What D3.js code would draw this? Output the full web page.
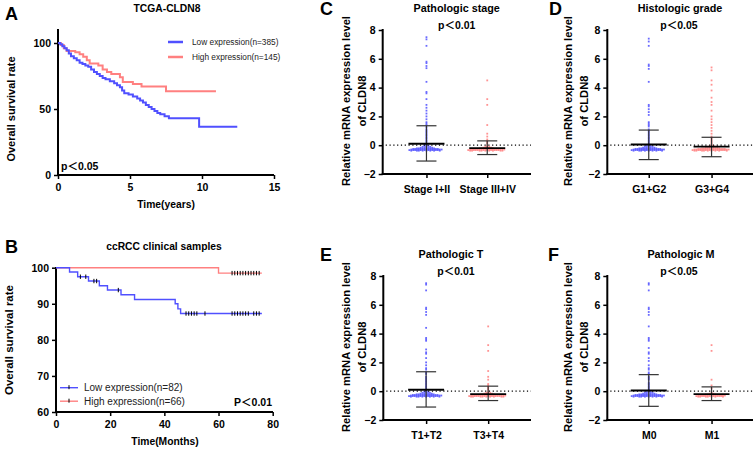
<!DOCTYPE html>
<html><head><meta charset="utf-8">
<script src="https://cdn.jsdelivr.net/npm/d3@7"></script>
<style>
body{margin:0;background:#fff}
text{font-family:"Liberation Sans",Arial,"Noto Sans CJK SC",sans-serif}
</style>
</head><body>
<svg id="c" width="753" height="449" xmlns="http://www.w3.org/2000/svg"></svg>
<script>
// ---------------- DATA ----------------
// Panel A: TCGA KM curves (time in years, survival %)
const A_lowT  = [0,0.15,0.3,0.45,0.6,0.75,0.9,1.1,1.3,1.5,1.7,1.9,2.1,2.3,2.5,2.7,2.9,3.1,3.3,3.6,3.9,4.1,4.3,4.45,4.6,4.9,5.2,5.5,5.7,5.9,6.1,6.3,6.5,6.7,6.9,7.1,7.4,7.7,9.8,12.45];
const A_lowS  = [100,99,97.5,96,94.5,92,90,88.5,87,85,84,83,82,80,78,76.5,75,73.5,72.5,71,69.5,68,66.5,64,62,61,59.5,58,56.5,55,53,51.5,50,48.5,47,46,44.5,43,36.5,36.5];
const A_highT = [0,0.2,0.4,0.6,1.2,1.5,1.75,2.0,2.2,2.8,3.1,3.4,3.7,4.3,4.5,5.2,5.8,7.5,10.97];
const A_highS = [100,98.5,96,94,93,91.5,89.5,87,84.5,83,80,78,76.5,74,70.5,69,67,63.5,63.5];
const A_xTicks = [0,5,10,15];
const A_yTicks = [0,50,100];
const A_legend = ["Low expression(n=385)","High expression(n=145)"];

// Panel B: clinical samples KM (months, %)
const B_lowT  = [0,5,8,12,16,19,24,29,44,45,46,76];
const B_lowS  = [100,98.8,97.5,96.3,95.0,93.8,92.5,91.2,90.0,88.6,87.3,87.3];
const B_highT = [0,60,76];
const B_highS = [100,98.5,98.5];
const B_lowCensor  = [9,11,14,15,23,48,49,50,51,52,55,65,66,67,68,69,70,71,73,74,75];
const B_highCensor = [65,66,67,68,69,70,71,72,73,74,75];
const B_xTicks = [0,20,40,60,80];
const B_yTicks = [60,70,80,90,100];
const B_legend = ["Low expression(n=82)","High expression(n=66)"];

// Scatter panels: relative mRNA expression of CLDN8
const dotYTicks = [-2,0,2,4,6,8];
const bandLevels = [-0.38,-0.34,-0.30,-0.26,-0.22,-0.17,-0.11,-0.05];

const C_cats = ["Stage I+II","Stage III+IV"];
const C_lowOut  = [7.5,7.35,6.9,5.8,5.7,5.5,5.35,4.4,3.7,3.6,3.2,2.8,2.6,2.4,2.2,2.0,1.8,1.6,1.5,1.4,1.25,1.1,1.0,0.9,0.8,0.7,0.6,0.5,0.4,0.3,0.2,0.1,0.05,0];
const C_highOut = [4.5,3.2,2.8,1.4,0.8,0.6,0.4,0.3,0.2,0.1];
const C_lowBand  = [8,9,9,8,6,4,3,2];
const C_highBand = [9,10,10,9,5,3,2,1];
const C_mean = [0.1,-0.2], C_sdHi = [1.35,0.3], C_sdLo = [-1.1,-0.65];

const D_cats = ["G1+G2","G3+G4"];
const D_lowOut  = [7.4,7.2,6.9,5.6,5.5,5.3,4.4,2.8,2.7,2.5,2.3,2.1,1.6,1.5,1.4,1.3,1.1,1.0,0.9,0.8,0.7,0.6,0.5,0.4,0.3,0.2,0.1,0];
const D_highOut = [5.4,5.2,4.5,4.2,3.8,3.3,3.0,2.8,2.4,2.0,1.8,1.6,1.4,1.2,1.0,0.8,0.6,0.5,0.4,0.3,0.2,0.1,0];
const D_lowBand  = [8,9,9,8,6,4,3,2];
const D_highBand = [9,10,10,9,6,4,3,2];
const D_mean = [0.05,-0.1], D_sdHi = [1.05,0.55], D_sdLo = [-1.0,-0.8];

const E_cats = ["T1+T2","T3+T4"];
const E_lowOut  = [7.5,7.4,7.0,5.8,5.7,5.5,5.3,4.4,3.7,3.6,3.5,2.9,2.7,2.6,2.3,2.0,1.8,1.6,1.5,1.3,1.2,1.0,0.9,0.8,0.7,0.6,0.5,0.4,0.3,0.2,0.1,0];
const E_highOut = [4.5,3.2,2.8,1.4,1.0,0.8,0.5,0.4,0.3,0.2,0.1];
const E_lowBand  = [8,9,9,8,6,4,3,2];
const E_highBand = [9,10,10,9,5,3,2,1];
const E_mean = [0.1,-0.2], E_sdHi = [1.35,0.35], E_sdLo = [-1.1,-0.65];

const F_cats = ["M0","M1"];
const F_lowOut  = [7.5,7.4,7.0,5.8,5.7,5.5,5.3,4.5,3.7,3.6,3.5,3.0,2.7,2.6,2.3,2.1,1.8,1.6,1.5,1.3,1.2,1.0,0.9,0.8,0.6,0.5,0.4,0.3,0.2,0.1,0];
const F_highOut = [3.2,2.8,0.8,0.4,0.2];
const F_lowBand  = [8,9,9,8,6,4,3,2];
const F_highBand = [7,8,8,7,4,2,1,0];
const F_mean = [0.05,-0.2], F_sdHi = [1.15,0.3], F_sdLo = [-1.05,-0.65];

// ---------------- DRAW ----------------
const BLUE = "#5050ff", RED = "#ff8080";
const svg = d3.select("#c");
svg.append("rect").attr("width",753).attr("height",449).attr("fill","#fff");

function styleAxis(g, fs){
  g.select(".domain").remove();
  g.selectAll(".tick line").attr("stroke","#000").attr("stroke-width",1.5);
  g.selectAll(".tick text").attr("fill","#000").attr("font-size",fs||10.5).attr("font-weight","bold");
}
function txt(x,y,s,opt){
  opt = opt||{};
  const t = svg.append("text").attr("x",x).attr("y",y).text(s)
    .attr("font-size",opt.size||10).attr("font-weight",opt.weight||"bold")
    .attr("fill",opt.fill||"#000").attr("text-anchor",opt.anchor||"start");
  if(opt.rotate) t.attr("transform",`rotate(-90,${x},${y})`);
  return t;
}
function vline(x,y1,y2,w){ svg.append("line").attr("x1",x).attr("x2",x).attr("y1",y1).attr("y2",y2).attr("stroke","#000").attr("stroke-width",w||2); }
function hline(y,x1,x2,w){ svg.append("line").attr("x1",x1).attr("x2",x2).attr("y1",y).attr("y2",y).attr("stroke","#000").attr("stroke-width",w||2); }

// ===== Panel A =====
{
  const x = d3.scaleLinear([0,15],[58,274]);
  const y = d3.scaleLinear([0,100],[175,43]);
  const gy = svg.append("g").attr("transform","translate(58,0)").call(d3.axisLeft(y).tickValues(A_yTicks).tickSize(4).tickPadding(3));
  styleAxis(gy);
  const gx = svg.append("g").attr("transform","translate(0,175)").call(d3.axisBottom(x).tickValues(A_xTicks).tickSize(4).tickPadding(5));
  styleAxis(gx);
  vline(58,29,176); hline(175,57,274);
  const line = d3.line().curve(d3.curveStepAfter).x(d=>x(d[0])).y(d=>y(d[1]));
  svg.append("path").attr("d",line(d3.zip(A_highT,A_highS))).attr("fill","none").attr("stroke",RED).attr("stroke-width",2);
  svg.append("path").attr("d",line(d3.zip(A_lowT,A_lowS))).attr("fill","none").attr("stroke",BLUE).attr("stroke-width",2);
  [BLUE,RED].forEach((c,i)=>{
    const ly = 42 + i*15;
    svg.append("line").attr("x1",168).attr("x2",183).attr("y1",ly).attr("y2",ly).attr("stroke",c).attr("stroke-width",2.5);
    txt(192, ly+3, A_legend[i], {size:8.3, weight:"normal", fill:"#222"});
  });
  txt(61,170,"p＜0.05",{size:10.5});
  txt(167,12,"TCGA-CLDN8",{size:10.3,anchor:"middle"});
  txt(166,208,"Time(years)",{size:10.3,anchor:"middle"});
  txt(15,109,"Overall survival rate",{size:11,anchor:"middle",rotate:true});
  txt(5,20,"A",{size:18});
}

// ===== Panel B =====
{
  const x = d3.scaleLinear([0,80],[56,272.7]);
  const y = d3.scaleLinear([60,100],[412,267.7]);
  const gy = svg.append("g").attr("transform","translate(56,0)").call(d3.axisLeft(y).tickValues(B_yTicks).tickSize(4).tickPadding(3));
  styleAxis(gy);
  const gx = svg.append("g").attr("transform","translate(0,412)").call(d3.axisBottom(x).tickValues(B_xTicks).tickSize(4).tickPadding(5));
  styleAxis(gx);
  vline(56,267,413); hline(412,55,273);
  const line = d3.line().curve(d3.curveStepAfter).x(d=>x(d[0])).y(d=>y(d[1]));
  const series = [[B_highT,B_highS,B_highCensor,RED],[B_lowT,B_lowS,B_lowCensor,BLUE]];
  series.forEach(([T,S,Cs,c])=>{
    svg.append("path").attr("d",line(d3.zip(T,S))).attr("fill","none").attr("stroke",c).attr("stroke-width",1.4);
    Cs.forEach(t=>{
      const i = d3.bisectRight(T,t)-1;
      const yy = y(S[i]);
      svg.append("line").attr("x1",x(t)).attr("x2",x(t)).attr("y1",yy-2.2).attr("y2",yy+2.2).attr("stroke","#000").attr("stroke-width",1);
    });
  });
  [BLUE,RED].forEach((c,i)=>{
    const ly = 387.7 + i*13.5;
    svg.append("line").attr("x1",60).attr("x2",78).attr("y1",ly).attr("y2",ly).attr("stroke",c).attr("stroke-width",1.4);
    svg.append("line").attr("x1",69).attr("x2",69).attr("y1",ly-2.5).attr("y2",ly+1.5).attr("stroke","#000").attr("stroke-width",1);
    txt(84, ly+3.5, B_legend[i], {size:10, weight:"normal", fill:"#222"});
  });
  txt(272,406,"P＜0.01",{size:10.5,anchor:"end"});
  txt(164,250,"ccRCC clinical samples",{size:10.3,anchor:"middle"});
  txt(165,445,"Time(Months)",{size:10.3,anchor:"middle"});
  txt(13,340,"Overall survival rate",{size:11.5,anchor:"middle",rotate:true});
  txt(5,253,"B",{size:18});
}

// ===== Scatter panels =====
function dotPanel(cfg){
  const y = d3.scaleLinear([-2,8],[cfg.yBottom,cfg.yBottom-144]);
  const x = d3.scalePoint(cfg.cats,[cfg.ax,cfg.axEnd]).padding(cfg.pad);
  const gy = svg.append("g").attr("transform",`translate(${cfg.ax},0)`).call(d3.axisLeft(y).tickValues(dotYTicks).tickSize(4).tickPadding(3));
  styleAxis(gy);
  const gx = svg.append("g").attr("transform",`translate(0,${cfg.yBottom})`).call(d3.axisBottom(x).tickSize(4).tickPadding(8));
  styleAxis(gx);
  vline(cfg.ax, cfg.yBottom-145, cfg.yBottom+1); hline(cfg.yBottom, cfg.ax-1, cfg.axEnd);
  // points (deterministic dodge layout)
  [0,1].forEach(gi=>{
    const vals = cfg.outs[gi].slice();
    cfg.bands[gi].forEach((n,k)=>{ for(let j=0;j<n;j++) vals.push(bandLevels[k]); });
    const cx = x(cfg.cats[gi]);
    const placed = [];
    vals.map(v=>y(v)).sort((a,b)=>a-b).forEach(py=>{
      let off = 0;
      for(let k=0;k<60;k++){
        off = (k%2===0?1:-1)*Math.ceil(k/2)*1.9;
        if(!placed.some(p=>Math.abs(p[1]-py)<1.0 && Math.abs(p[0]-off)<1.7)) break;
      }
      placed.push([off,py]);
    });
    svg.append("g").selectAll("rect").data(placed).join("rect")
      .attr("x",d=>cx+d[0]-0.9).attr("y",d=>d[1]-0.9).attr("width",1.8).attr("height",1.8)
      .attr("fill",gi===0?BLUE:RED).attr("opacity",0.85);
  });
  svg.append("line").attr("x1",cfg.ax+3).attr("x2",cfg.axEnd).attr("y1",y(0)).attr("y2",y(0))
    .attr("stroke","#000").attr("stroke-width",1.2).attr("stroke-dasharray","1.2,2.6");
  [0,1].forEach(gi=>{
    const cx = x(cfg.cats[gi]);
    svg.append("line").attr("x1",cx).attr("x2",cx).attr("y1",y(cfg.sdLo[gi])).attr("y2",y(cfg.sdHi[gi])).attr("stroke","#333").attr("stroke-width",1.2);
    [cfg.sdLo[gi],cfg.sdHi[gi]].forEach(v=>{
      svg.append("line").attr("x1",cx-10).attr("x2",cx+10).attr("y1",y(v)).attr("y2",y(v)).attr("stroke","#333").attr("stroke-width",1.2);
    });
    svg.append("line").attr("x1",cx-18).attr("x2",cx+18).attr("y1",y(cfg.mean[gi])).attr("y2",y(cfg.mean[gi])).attr("stroke","#000").attr("stroke-width",1.8);
  });
  txt(cfg.titleX, cfg.yBottom-162.3, cfg.title, {size:10.8,anchor:"middle"});
  txt(cfg.pX, cfg.yBottom-144.7, cfg.p, {size:10.5,anchor:"middle"});
  const cy = cfg.yBottom-73;
  txt(cfg.l1, cy, "Relative mRNA expression level", {size:11.2,anchor:"middle",rotate:true});
  txt(cfg.l1+15.5, cy, "of CLDN8", {size:11.2,anchor:"middle",rotate:true});
  txt(cfg.letterX, cfg.yBottom-159, cfg.letter, {size:18});
}

dotPanel({letter:"C",letterX:320,title:"Pathologic stage",p:"p＜0.01",titleX:456.7,pX:456.7,cats:C_cats,ax:382.7,axEnd:531,pad:0.72,yBottom:174,
  outs:[C_lowOut,C_highOut],bands:[C_lowBand,C_highBand],mean:C_mean,sdHi:C_sdHi,sdLo:C_sdLo,l1:350});
dotPanel({letter:"D",letterX:549,title:"Histologic grade",p:"p＜0.05",titleX:680,pX:679,cats:D_cats,ax:607.3,axEnd:753,pad:0.66,yBottom:174,
  outs:[D_lowOut,D_highOut],bands:[D_lowBand,D_highBand],mean:D_mean,sdHi:D_sdHi,sdLo:D_sdLo,l1:572});
dotPanel({letter:"E",letterX:320,title:"Pathologic T",p:"p＜0.01",titleX:451,pX:456,cats:E_cats,ax:383.3,axEnd:531,pad:0.69,yBottom:420,
  outs:[E_lowOut,E_highOut],bands:[E_lowBand,E_highBand],mean:E_mean,sdHi:E_sdHi,sdLo:E_sdLo,l1:350});
dotPanel({letter:"F",letterX:548,title:"Pathologic M",p:"p＜0.05",titleX:681,pX:679,cats:F_cats,ax:607.3,axEnd:753,pad:0.66,yBottom:420,
  outs:[F_lowOut,F_highOut],bands:[F_lowBand,F_highBand],mean:F_mean,sdHi:F_sdHi,sdLo:F_sdLo,l1:572});
</script>
</body></html>
